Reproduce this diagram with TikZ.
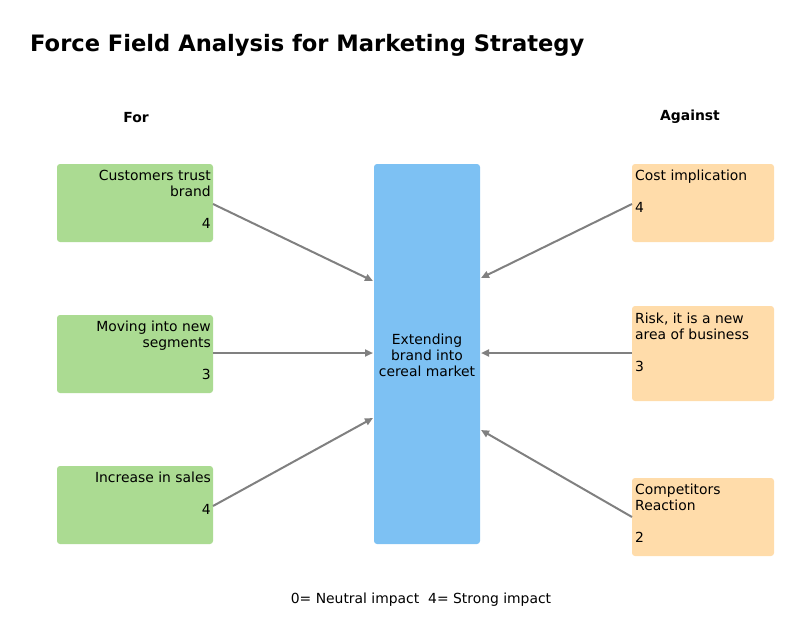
\documentclass[tikz,border=0pt]{standalone}
\usepackage{fontspec}
\setmainfont{DejaVu Sans}
\usetikzlibrary{arrows.meta}
\definecolor{forgreen}{RGB}{171,219,146}
\definecolor{midblue}{RGB}{125,193,243}
\definecolor{agorange}{RGB}{255,220,170}
\definecolor{arrgray}{RGB}{128,128,128}
\begin{document}
\begin{tikzpicture}[x=1pt,y=-1pt,
  box/.style={rounded corners=3pt, minimum width=#1, inner sep=0pt, outer sep=0pt},
  forbox/.style={box=156pt, fill=forgreen, minimum height=78pt},
  agbox/.style={box=142pt, fill=agorange},
  txt/.style={font=\fontsize{13.9}{16}\selectfont, inner sep=0pt},
  force/.style={draw=arrgray, line width=2pt, -{Triangle[length=8pt,width=7pt]}}
]
\useasboundingbox (0,0) rectangle (800,629);
\node[font=\fontsize{22.6}{26}\selectfont\bfseries, anchor=west, inner sep=0pt] (title) at (30,45) {Force Field Analysis for Marketing Strategy};
\node[txt, font=\fontsize{13.9}{16}\selectfont\bfseries] (for) at (136,118) {For};
\node[txt, font=\fontsize{13.9}{16}\selectfont\bfseries] (against) at (690,117) {Against};

% center
\node[box=106pt, fill=midblue, minimum height=380pt] (c) at (427,354) {};
\node[txt, align=center] (ct) at (427,355) {Extending\\brand into\\cereal market};

% for boxes
\node[forbox] (g1) at (135,203) {};
\node[forbox] (g2) at (135,354) {};
\node[forbox] (g3) at (135,505) {};
\node[txt, align=right, anchor=north east] (g1t) at (211,170) {Customers trust\\brand\\~\\4};
\node[txt, align=right, anchor=north east] (g2t) at (211,321) {Moving into new\\segments\\~\\3};
\node[txt, align=right, anchor=north east] (g3t) at (211,472) {Increase in sales\\~\\4};

% against boxes
\node[agbox, minimum height=78pt] (o1) at (703,203) {};
\node[agbox, minimum height=95pt] (o2) at (703,353.5) {};
\node[agbox, minimum height=78pt] (o3) at (703,517) {};
\node[txt, align=left, anchor=north west] (o1t) at (635,170) {Cost implication\\~\\4};
\node[txt, align=left, anchor=north west] (o2t) at (635,313) {Risk, it is a new\\area of business\\~\\3};
\node[txt, align=left, anchor=north west] (o3t) at (635,484) {Competitors\\Reaction\\~\\2};

% arrows
\coordinate (c1) at (373,281);
\coordinate (c2) at (373,353);
\coordinate (c3) at (373,418);
\coordinate (c4) at (481,278);
\coordinate (c5) at (481,353);
\coordinate (c6) at (481,430);
\draw[force] (g1.east |- 0,204) -- (c1);
\draw[force] (g2.east |- 0,353) -- (c2);
\draw[force] (g3.east |- 0,506) -- (c3);
\draw[force] (o1.west |- 0,204) -- (c4);
\draw[force] (o2.west |- 0,353) -- (c5);
\draw[force] (o3.west |- 0,517) -- (c6);

\node[txt] (legend) at (421,600) {0= Neutral impact\ \ 4= Strong impact};
\end{tikzpicture}
\end{document}
